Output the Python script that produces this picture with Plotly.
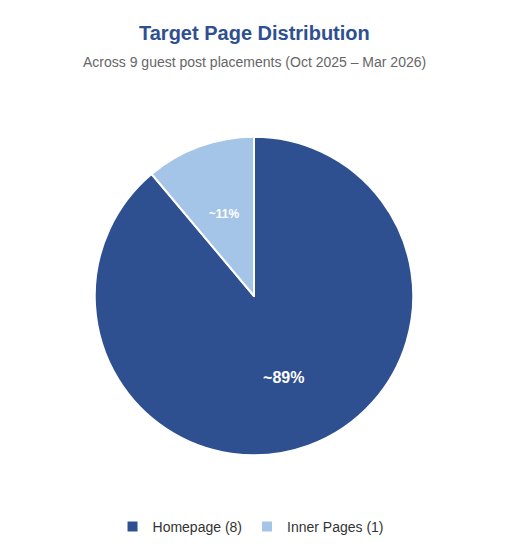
import plotly.graph_objects as go

labels = ["Homepage (8)", "Inner Pages (1)"]
values = [8, 1]
texts = ["~89%", "~11%"]
colors = ["#2E5090", "#A4C4E8"]

FONT = "Liberation Sans, Arial, sans-serif"
W, H = 526, 560
# the page body adds an 8px offset; compensate in margins
ML, MT, PW, PH = 72, 114, 348, 348
MR, MB = W - ML - PW, H - MT - PH

main_frac = 318.5 / PW
lo, hi = (1 - main_frac) / 2, (1 + main_frac) / 2
small_frac = 0.672
slo, shi = (1 - small_frac) / 2, (1 + small_frac) / 2

fig = go.Figure()
# main pie (no text)
fig.add_trace(go.Pie(
    labels=labels, values=values, textinfo="none", sort=False,
    direction="clockwise", rotation=0,
    domain=dict(x=[lo, hi], y=[lo, hi]),
    marker=dict(colors=colors, line=dict(color="white", width=2)),
    hoverinfo="label+value",
))
# text carrier for the large slice
fig.add_trace(go.Pie(
    labels=labels, values=values, text=[texts[0], ""], textinfo="text",
    textposition="inside", insidetextorientation="horizontal", sort=False,
    direction="clockwise", rotation=0, showlegend=False, hoverinfo="skip",
    domain=dict(x=[0, 1], y=[0, 1]),
    marker=dict(colors=["rgba(0,0,0,0)"] * 2, line=dict(width=0)),
    textfont=dict(family=FONT, color="white", size=16, weight="bold"),
))
# text carrier for the small slice
fig.add_trace(go.Pie(
    labels=labels, values=values, text=["", texts[1]], textinfo="text",
    textposition="inside", insidetextorientation="horizontal", sort=False,
    direction="clockwise", rotation=0, showlegend=False, hoverinfo="skip",
    domain=dict(x=[slo, shi], y=[slo, shi]),
    marker=dict(colors=["rgba(0,0,0,0)"] * 2, line=dict(width=0)),
    textfont=dict(family=FONT, color="white", size=12, weight="bold"),
))

fig.update_layout(
    width=W, height=H,
    margin=dict(l=ML, r=MR, t=MT, b=MB),
    paper_bgcolor="white", plot_bgcolor="white",
    font=dict(family=FONT, color="#333"),
    showlegend=True,
)

def py(pix):
    return (H - MB - (pix - 8)) / PH

fig.update_layout(legend=dict(orientation="h", x=0.49, xanchor="center", y=py(527), yanchor="middle",
                              font=dict(size=14, color="#333"), traceorder="normal"))
fig.add_annotation(text="<b>Target Page Distribution</b>", x=0.5, xref="paper", y=py(33), yref="paper",
                   yanchor="middle", showarrow=False, font=dict(size=20, color="#2E5090"))
fig.add_annotation(text="Across 9 guest post placements (Oct 2025 – Mar 2026)", x=0.5, xref="paper",
                   y=py(62), yref="paper", yanchor="middle", showarrow=False,
                   font=dict(size=14, color="#666"))

fig.write_html("out.html")
